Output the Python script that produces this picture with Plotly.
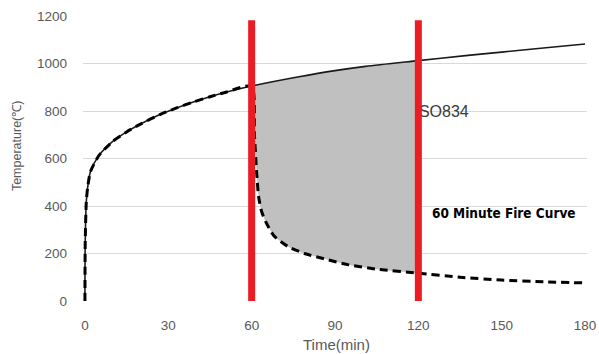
import plotly.graph_objects as go

# ISO834 standard fire curve
iso_t = [0, 0.1, 0.5, 1, 2, 5, 10, 15, 20, 27, 33, 39, 45, 51, 60, 77, 90, 101, 120, 137, 150, 165, 180]
iso_T = [0, 250, 420, 480, 545, 612, 672, 712, 745, 785, 813, 838, 860, 880, 905, 944, 970, 988, 1012, 1033, 1048, 1065, 1082]

# 60 minute fire curve: follows ISO834 up to 60 min, then cools
cool_t = [60, 61, 61.8, 62.5, 63.5, 65, 68, 73, 79, 86, 95, 105, 120, 135, 150, 165, 180]
cool_T = [905, 700, 540, 440, 380, 335, 275, 230, 200, 178, 152, 134, 117, 100, 88, 81, 76]

# exposure window markers
window_t = [60, 120]
window_top = 1182

x_ticks = [0, 30, 60, 90, 120, 150, 180]
y_ticks = [0, 200, 400, 600, 800, 1000, 1200]

label_iso = ("ISO834", 118.6, 790)
label_fire = ("60 Minute Fire Curve", 124.9, 365)

fire_t = [t for t in iso_t if t < 60] + cool_t
fire_T = [v for t, v in zip(iso_t, iso_T) if t < 60] + cool_T

win_top_t = [t for t in iso_t if window_t[0] <= t <= window_t[1]]
win_top_T = [v for t, v in zip(iso_t, iso_T) if window_t[0] <= t <= window_t[1]]
win_bot_t = [t for t in cool_t if window_t[0] <= t <= window_t[1]]
win_bot_T = [v for t, v in zip(cool_t, cool_T) if window_t[0] <= t <= window_t[1]]

fig = go.Figure()
# shaded band between the curves within the window
fig.add_trace(go.Scatter(x=win_bot_t, y=win_bot_T, mode="lines",
                         line=dict(width=0, color="#c0c0c0", shape="spline", smoothing=0.6),
                         hoverinfo="skip", showlegend=False))
fig.add_trace(go.Scatter(x=win_top_t, y=win_top_T, mode="lines", fill="tonexty", fillcolor="#c0c0c0",
                         line=dict(width=0, color="#c0c0c0", shape="spline", smoothing=0.8),
                         hoverinfo="skip", showlegend=False))
fig.add_trace(go.Scatter(x=iso_t, y=iso_T, mode="lines",
                         line=dict(color="#1a1a1a", width=1.6, shape="spline", smoothing=0.8),
                         showlegend=False))
fig.add_trace(go.Scatter(x=fire_t, y=fire_T, mode="lines",
                         line=dict(color="#000000", width=3, dash="8px,5px", shape="spline", smoothing=0.6),
                         showlegend=False))
fig.add_trace(go.Scatter(x=[label_iso[1]], y=[label_iso[2]], mode="text", text=[label_iso[0]],
                         textposition="middle right", cliponaxis=False,
                         textfont=dict(family="Liberation Sans, Arial, sans-serif", size=16, color="#3a3a3a"),
                         showlegend=False))
fig.add_trace(go.Scatter(x=[label_fire[1]], y=[label_fire[2]], mode="text", text=[label_fire[0]],
                         textposition="middle right", cliponaxis=False,
                         textfont=dict(family="DejaVu Sans Condensed, DejaVu Sans, sans-serif",
                                       size=13.5, color="#000000", weight="bold"),
                         showlegend=False))
for t in window_t:
    fig.add_trace(go.Scatter(x=[t, t], y=[0, window_top], mode="lines",
                             line=dict(color="#ec1c24", width=7), showlegend=False))

tick_font = dict(family="Liberation Sans, Arial, sans-serif", size=13.5, color="#595959")
title_font = dict(family="Liberation Sans, Arial, sans-serif", color="#595959")
fig.update_layout(
    width=599, height=354,
    margin=dict(l=83, r=12, t=16, b=53),
    plot_bgcolor="white", paper_bgcolor="white",
    xaxis=dict(range=[-0.7, 180.7], tickvals=x_ticks, showgrid=False, zeroline=False, automargin=False,
               showline=False, tickfont=tick_font, ticklabelstandoff=14),
    yaxis=dict(range=[0, 1200], tickvals=y_ticks, showgrid=True, gridcolor="#d9d9d9", gridwidth=1,
               zeroline=False, showline=False, automargin=False, tickfont=tick_font, ticklabelstandoff=15),
    annotations=[
        dict(text="Time(min)", xref="paper", yref="paper", x=0.502, y=-0.154, showarrow=False,
             xanchor="center", yanchor="middle", font=dict(size=15, **title_font)),
        dict(text="Temperature(℃)", xref="paper", yref="paper", x=-0.131, y=0.547, showarrow=False,
             textangle=-90, xanchor="center", yanchor="middle", font=dict(size=12.5, **title_font)),
    ],
)
fig.write_html("out.html")
